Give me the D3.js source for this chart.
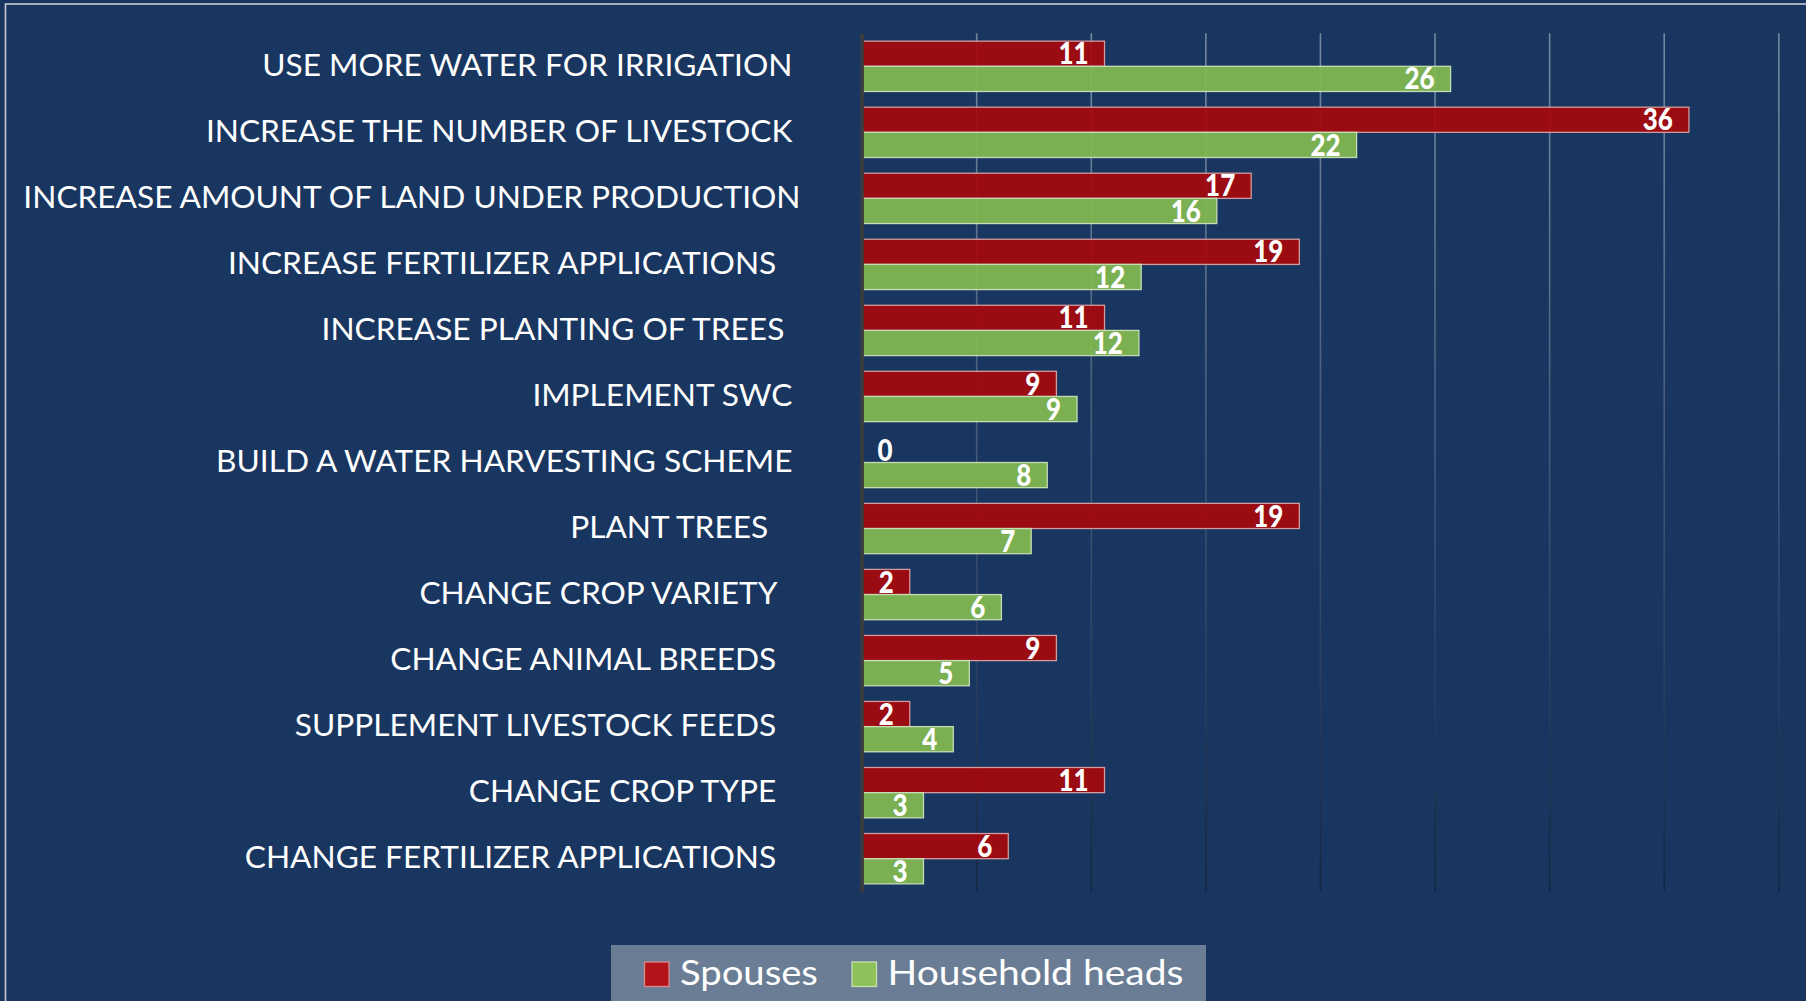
<!DOCTYPE html>
<html>
<head>
<meta charset="utf-8">
<script src="https://cdn.jsdelivr.net/npm/d3@7"></script>
<style>
  html, body { margin: 0; padding: 0; background: #193660; }
  svg { display: block; }
  text { white-space: pre; }
</style>
</head>
<body>
<svg id="chart" width="1806" height="1001" xml:space="preserve"></svg>
<script>
// ---- data (bar lengths; labels show rounded values) ----
const categories = [
  "USE MORE WATER FOR IRRIGATION ",
  "INCREASE THE NUMBER OF LIVESTOCK ",
  "INCREASE AMOUNT OF LAND UNDER PRODUCTION",
  "INCREASE FERTILIZER APPLICATIONS   ",
  "INCREASE PLANTING OF TREES  ",
  "IMPLEMENT SWC ",
  "BUILD A WATER HARVESTING SCHEME ",
  "PLANT TREES    ",
  "CHANGE CROP VARIETY   ",
  "CHANGE ANIMAL BREEDS   ",
  "SUPPLEMENT LIVESTOCK FEEDS   ",
  "CHANGE CROP TYPE   ",
  "CHANGE FERTILIZER APPLICATIONS   "
];
const spouses = [10.6, 36.1, 17.0, 19.1, 10.6, 8.5, 0, 19.1, 2.1, 8.5, 2.1, 10.6, 6.4];
const heads   = [25.7, 21.6, 15.5, 12.2, 12.1, 9.4, 8.1, 7.4, 6.1, 4.7, 4.0, 2.7, 2.7];
const seriesNames = ["Spouses", "Household heads"];
const xTicks = [5, 10, 15, 20, 25, 30, 35, 40];

// ---- layout ----
const W = 1806, H = 1001;
const plot = { left: 861.6, right: 1778.3, top: 33.3, bottom: 891.7 };
const colors = { "Spouses": "#a5070c", "Household heads": "#82b951" };
const strokes = { "Spouses": "#d29a9c", "Household heads": "#c6dcb4" };
const legendFill = { "Spouses": "#b31419", "Household heads": "#8dc25b" };
const legendStroke = { "Spouses": "#d88a8c", "Household heads": "#c8deb0" };

const svg = d3.select("#chart");
const font = "Lato, 'Open Sans', sans-serif";

svg.append("rect").attr("width", W).attr("height", H).attr("fill", "#193660");
svg.append("rect").attr("x", 5.5).attr("y", 4).attr("width", W + 50).attr("height", H + 50)
  .attr("fill", "none").attr("stroke", "#c9cdd4").attr("stroke-width", 1.6);

const x = d3.scaleLinear().domain([0, 40]).range([plot.left, plot.right]);
const y = d3.scaleBand().domain(categories).range([plot.top, plot.bottom])
  .paddingInner(0.238).paddingOuter(0.119);
const y1 = d3.scaleBand().domain(seriesNames).range([0, y.bandwidth()]);

// gridline gradient
const defs = svg.append("defs");
const grad = defs.append("linearGradient").attr("id", "gridGrad")
  .attr("gradientUnits", "userSpaceOnUse")
  .attr("x1", 0).attr("x2", 0).attr("y1", plot.top).attr("y2", plot.bottom);
grad.append("stop").attr("offset", "0%").attr("stop-color", "#72869f");
grad.append("stop").attr("offset", "55%").attr("stop-color", "#3a4e6e");
grad.append("stop").attr("offset", "100%").attr("stop-color", "#10233f");

// gridlines (vertical), drawn behind the bars
const xAxis = d3.axisBottom(x).tickValues(xTicks).tickSize(plot.bottom - plot.top).tickFormat("");
const gx = svg.append("g").attr("transform", `translate(0,${plot.top})`).call(xAxis);
gx.select(".domain").remove();
gx.selectAll(".tick line").attr("stroke", "url(#gridGrad)").attr("stroke-width", 1.6);

// bars
const rows = categories.map((c, i) => ({ cat: c, vals: [
  { s: "Spouses", v: spouses[i] }, { s: "Household heads", v: heads[i] } ] }));

const gRows = svg.append("g").selectAll("g").data(rows).join("g")
  .attr("transform", d => `translate(0,${y(d.cat)})`);

gRows.selectAll("rect").data(d => d.vals.filter(e => e.v > 0)).join("rect")
  .attr("x", x(0))
  .attr("y", d => y1(d.s))
  .attr("width", d => x(d.v) - x(0))
  .attr("height", y1.bandwidth())
  .attr("fill", d => colors[d.s])
  .attr("fill-opacity", 0.93)
  .attr("stroke", d => strokes[d.s])
  .attr("stroke-width", 1.3);

// category axis (vertical axis line at 0)
const yAxis = d3.axisLeft(y).tickSize(0).tickFormat("");
const gy = svg.append("g").attr("transform", `translate(${x(0)},0)`).call(yAxis);
gy.select(".domain").attr("stroke", "#3c3c3e").attr("stroke-width", 3.6);

// category labels
const labelRight = 800.5;
const labelG = svg.append("g").attr("transform", `translate(${labelRight},0)`);
const labelInner = labelG.append("g");
labelInner.selectAll("text").data(categories).join("text")
  .attr("x", 0)
  .attr("y", d => y(d) + y.bandwidth() / 2 + 9.5)
  .attr("text-anchor", "end")
  .attr("fill", "#ffffff")
  .attr("font-family", font)
  .attr("font-size", 31)
  .text(d => d);
const longest = labelInner.selectAll("text").nodes()
  .reduce((m, n) => Math.max(m, n.getComputedTextLength()), 0);
const kx = (labelRight - 23) / longest;
labelInner.attr("transform", `scale(${kx},1)`);

// value labels
const valG = gRows.selectAll("text.val").data(d => d.vals).join("text")
  .attr("class", "val")
  .attr("y", d => y1(d.s) + y1.bandwidth() / 2 + 10.6)
  .attr("fill", "#ffffff")
  .attr("font-family", font)
  .attr("font-weight", 900)
  .attr("font-size", 29.5)
  .text(d => Math.round(d.v));
valG.each(function(d) {
  const t = d3.select(this);
  if (d.v === 0) {
    t.attr("x", x(0) + 16).attr("text-anchor", "start");
  } else {
    t.attr("x", x(d.v) - 16).attr("text-anchor", "end");
  }
});
valG.attr("transform", function(d) {
  const xx = +d3.select(this).attr("x");
  return `translate(${xx},0) scale(0.88,1) translate(${-xx},0)`;
});

// legend
const leg = svg.append("g");
leg.append("rect").attr("x", 611).attr("y", 945).attr("width", 595).attr("height", 80)
  .attr("fill", "#6a7d95");
const legItems = leg.selectAll("g").data(seriesNames).join("g");
let cursor = 644.5;
legItems.each(function(s) {
  const g = d3.select(this);
  g.append("rect").attr("x", cursor).attr("y", 962).attr("width", 24.5).attr("height", 24.5)
    .attr("fill", legendFill[s]).attr("stroke", legendStroke[s]).attr("stroke-width", 1.3);
  const tx = cursor + 35.5;
  const t = g.append("text").attr("x", tx).attr("y", 985.5)
    .attr("fill", "#ffffff").attr("font-family", font).attr("font-size", 35).text(s);
  const targetW = s === "Spouses" ? 138 : 296;
  const w = t.node().getComputedTextLength();
  const k = targetW / w;
  t.attr("transform", `translate(${tx},0) scale(${k},1) translate(${-tx},0)`);
  cursor = tx + targetW + 34;
});
</script>
</body>
</html>
